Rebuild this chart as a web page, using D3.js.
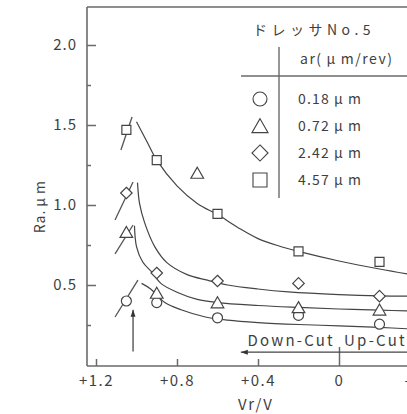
<!DOCTYPE html>
<html><head><meta charset="utf-8">
<script src="https://cdn.jsdelivr.net/npm/d3@7"></script>
<style>body{margin:0;background:#fff}svg{display:block}</style>
</head><body>
<svg id="c" width="407" height="414"></svg>
<script>
// ---- data ----
const xTicks = [1.2, 0.8, 0.4, 0, -0.4];
const xTickLabels = ["+1.2", "+0.8", "+0.4", "0", "-0.4"];
const yMajor = [0.5, 1.0, 1.5, 2.0];
const yMinor = [0.25, 0.75, 1.25, 1.75];
const legendTitle = "ドレッサNo.5";
const legendHeader = "ar(μm/rev)";
const seriesLabels = ["0.18μm", "0.72μm", "2.42μm", "4.57μm"];
const seriesShapes = ["circle", "triangle", "diamond", "square"];

const circlePts   = [[1.05, 0.40], [0.9, 0.39], [0.6, 0.295], [0.2, 0.31], [-0.2, 0.255]];
const trianglePts = [[1.05, 0.83], [0.9, 0.45], [0.7, 1.20], [0.6, 0.39], [0.2, 0.36], [-0.2, 0.345]];
const diamondPts  = [[1.05, 1.075], [0.9, 0.575], [0.6, 0.525], [0.2, 0.51], [-0.2, 0.43]];
const squarePts   = [[1.05, 1.47], [0.9, 1.28], [0.6, 0.945], [0.2, 0.71], [-0.2, 0.645]];

// fitted curves
const circleCurve   = [[0.975, 0.51], [0.93, 0.475], [0.86, 0.39], [0.78, 0.345], [0.66, 0.30], [0.55, 0.28], [0.4, 0.265], [0.2, 0.253], [0.0, 0.245], [-0.2, 0.235], [-0.36, 0.225]];
const triangleCurve = [[1.01, 0.87], [1.0, 0.74], [0.97, 0.645], [0.92, 0.575], [0.88, 0.51], [0.8, 0.455], [0.7, 0.41], [0.6, 0.39], [0.4, 0.372], [0.2, 0.36], [0.0, 0.35], [-0.2, 0.343], [-0.36, 0.337]];
const diamondCurve  = [[0.995, 1.14], [0.985, 1.01], [0.96, 0.89], [0.91, 0.74], [0.85, 0.64], [0.75, 0.565], [0.65, 0.53], [0.55, 0.50], [0.4, 0.475], [0.25, 0.457], [0.0, 0.44], [-0.2, 0.432], [-0.36, 0.43]];
const squareCurve   = [[1.0, 1.52], [0.95, 1.40], [0.9, 1.28], [0.8, 1.12], [0.7, 1.01], [0.6, 0.94], [0.5, 0.86], [0.4, 0.79], [0.3, 0.745], [0.2, 0.71], [0.0, 0.65], [-0.2, 0.60], [-0.36, 0.565]];

// short rising segments on the left
const circleSeg   = [[1.106, 0.30], [0.993, 0.531]];
const triangleSeg = [[1.106, 0.694], [1.017, 0.875]];
const diamondSeg  = [[1.106, 0.906], [1.017, 1.144]];
const squareSeg   = [[1.077, 1.344], [1.022, 1.55]];

// ---- drawing ----
const svg = d3.select("#c");
const FONT = "'Noto Sans CJK JP','Noto Sans',sans-serif";
const INK = "#3f3f3f";
const AX = "#6a6a6a";

const x = d3.scaleLinear().domain([1.2, 0]).range([96, 339]);
const y = d3.scaleLinear().domain([0, 2.0]).range([365, 45]);

const fLeft = x(1.2445), fRight = 420, fTop = 7, fBottom = y(0) + 1;

// text with spaced μ
function muText(sel, str, gap) {
  const parts = str.split("μ");
  sel.text(null);
  sel.append("tspan").text(parts[0]);
  if (parts.length > 1) {
    sel.append("tspan").attr("dx", gap).text("μ");
    sel.append("tspan").attr("dx", gap).text(parts[1]);
  }
  return sel;
}

// frame
svg.append("line").attr("x1", fLeft).attr("x2", fRight).attr("y1", fTop).attr("y2", fTop)
  .attr("stroke", AX).attr("stroke-width", 1.6);
svg.append("line").attr("x1", fLeft).attr("x2", fLeft).attr("y1", fTop).attr("y2", fBottom)
  .attr("stroke", AX).attr("stroke-width", 1.6);
svg.append("line").attr("x1", fLeft).attr("x2", fRight).attr("y1", fBottom).attr("y2", fBottom)
  .attr("stroke", AX).attr("stroke-width", 1.6);

// y axis
const yAxis = d3.axisLeft(y).tickValues(yMajor).tickFormat(d3.format(".1f"))
  .tickSizeInner(-9).tickSizeOuter(0).tickPadding(10);
const gy = svg.append("g").attr("transform", `translate(${fLeft},0)`).call(yAxis);
gy.select(".domain").remove();
gy.selectAll(".tick line").attr("stroke", AX).attr("stroke-width", 1.5);
gy.selectAll(".tick text").attr("font-family", FONT).attr("font-size", 15)
  .attr("letter-spacing", 1).attr("fill", INK);
const yAxisMinor = d3.axisLeft(y).tickValues(yMinor).tickFormat("").tickSizeInner(-4).tickSizeOuter(0);
const gym = svg.append("g").attr("transform", `translate(${fLeft},0)`).call(yAxisMinor);
gym.select(".domain").remove();
gym.selectAll(".tick line").attr("stroke", AX).attr("stroke-width", 1.5);

// x axis
const xAxis = d3.axisBottom(x).tickValues(xTicks).tickFormat((d, i) => xTickLabels[i])
  .tickSizeInner(-7).tickSizeOuter(0).tickPadding(9);
const gx = svg.append("g").attr("transform", `translate(0,${fBottom})`).call(xAxis);
gx.select(".domain").remove();
gx.selectAll(".tick line").attr("stroke", AX).attr("stroke-width", 1.5)
  .attr("y2", d => d === 0 ? -19 : -7);
gx.selectAll(".tick text").attr("font-family", FONT).attr("font-size", 15)
  .attr("letter-spacing", 1.5).attr("fill", INK);

// axis titles
svg.append("text").attr("x", x(0.41)).attr("y", 410).attr("text-anchor", "middle")
  .attr("font-family", FONT).attr("font-size", 15).attr("letter-spacing", 2).attr("fill", INK)
  .text("Vr/V");
muText(svg.append("text").attr("transform", `translate(45,${y(0.99)}) rotate(-90)`).attr("text-anchor", "middle")
  .attr("font-family", FONT).attr("font-size", 14).attr("letter-spacing", 1).attr("fill", INK),
  "Ra.μm", 3);

// arrowhead marker
const defs = svg.append("defs");
defs.append("marker").attr("id", "ah").attr("viewBox", "0 0 10 10").attr("refX", 10).attr("refY", 5)
  .attr("markerWidth", 7).attr("markerHeight", 7).attr("markerUnits", "userSpaceOnUse")
  .attr("orient", "auto")
  .append("path").attr("d", "M0,1.5 L10,5 L0,8.5 Z").attr("fill", "#333");

// Down-cut / Up-cut annotation
svg.append("line").attr("x1", fRight).attr("x2", x(0.485)).attr("y1", y(0.08)).attr("y2", y(0.08))
  .attr("stroke", "#444").attr("stroke-width", 1.2).attr("marker-end", "url(#ah)");
svg.append("text").attr("x", x(0.02)).attr("y", 346).attr("text-anchor", "end")
  .attr("font-family", FONT).attr("font-size", 15).attr("letter-spacing", 2.2).attr("fill", INK)
  .text("Down-Cut");
svg.append("text").attr("x", x(-0.025)).attr("y", 346).attr("text-anchor", "start")
  .attr("font-family", FONT).attr("font-size", 15).attr("letter-spacing", 2.2).attr("fill", INK)
  .text("Up-Cut");

// vertical arrow
svg.append("line").attr("x1", x(1.017)).attr("x2", x(1.017)).attr("y1", y(0.085)).attr("y2", y(0.345))
  .attr("stroke", "#555").attr("stroke-width", 1.4).attr("marker-end", "url(#ah)");

// curves
const line = d3.line().x(d => x(d[0])).y(d => y(d[1])).curve(d3.curveCatmullRom.alpha(0.5));
const straight = d3.line().x(d => x(d[0])).y(d => y(d[1]));
[circleCurve, triangleCurve, diamondCurve, squareCurve].forEach(c => {
  svg.append("path").attr("d", line(c)).attr("fill", "none").attr("stroke", "#444").attr("stroke-width", 1.2);
});
[circleSeg, triangleSeg, diamondSeg, squareSeg].forEach(c => {
  svg.append("path").attr("d", straight(c)).attr("fill", "none").attr("stroke", "#555").attr("stroke-width", 1.3);
});

// markers
function shapePath(kind, s) {
  const h = s / 2;
  if (kind === "square") return `M${-h},${-h}H${h}V${h}H${-h}Z`;
  if (kind === "diamond") return `M0,${-h * 1.15}L${h * 1.15},0L0,${h * 1.15}L${-h * 1.15},0Z`;
  if (kind === "triangle") return `M0,${-h * 1.05}L${h * 1.15},${h * 0.95}L${-h * 1.15},${h * 0.95}Z`;
  return d3.arc()({ innerRadius: 0, outerRadius: h, startAngle: 0, endAngle: 2 * Math.PI });
}
function drawPts(pts, kind, s) {
  svg.append("g").selectAll("path").data(pts).join("path")
    .attr("transform", d => `translate(${x(d[0])},${y(d[1])})`)
    .attr("d", shapePath(kind, s))
    .attr("fill", "#fff").attr("stroke", "#444").attr("stroke-width", 1.2);
}
drawPts(circlePts, "circle", 10);
drawPts(trianglePts, "triangle", 11);
drawPts(diamondPts, "diamond", 10);
drawPts(squarePts, "square", 9);

// legend
svg.append("text").attr("x", 253).attr("y", 35).attr("font-family", FONT).attr("font-size", 14)
  .attr("letter-spacing", 4.5).attr("fill", INK).text(legendTitle);
muText(svg.append("text").attr("x", 300).attr("y", 64).attr("font-family", FONT).attr("font-size", 14)
  .attr("letter-spacing", 1.5).attr("fill", INK), legendHeader, 4);
svg.append("line").attr("x1", 279).attr("x2", 279).attr("y1", 47).attr("y2", 198)
  .attr("stroke", AX).attr("stroke-width", 1.4);
svg.append("line").attr("x1", 241).attr("x2", fRight).attr("y1", 76).attr("y2", 76)
  .attr("stroke", AX).attr("stroke-width", 1.4);
const rowY = d3.scalePoint().domain(seriesLabels).range([99, 180]);
seriesLabels.forEach((lab, i) => {
  svg.append("path").attr("transform", `translate(260,${rowY(lab)})`)
    .attr("d", shapePath(seriesShapes[i], 14))
    .attr("fill", "#fff").attr("stroke", "#444").attr("stroke-width", 1.1);
  muText(svg.append("text").attr("x", 298).attr("y", rowY(lab) + 5).attr("font-family", FONT)
    .attr("font-size", 14).attr("letter-spacing", 1.2).attr("fill", INK), lab, 4);
});
</script>
</body></html>
